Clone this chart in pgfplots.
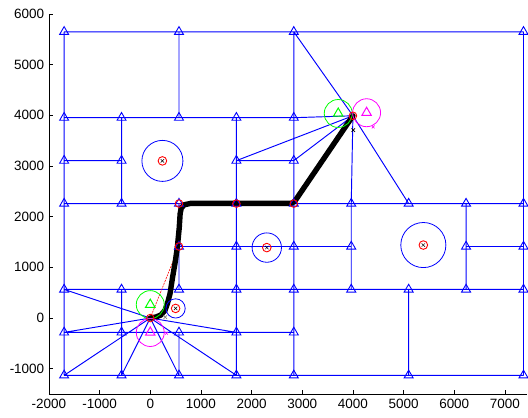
\documentclass[border=0pt]{standalone}
\usepackage{fontspec}
\setmainfont{Liberation Sans}
\usepackage{pgfplots}
\usepackage{pgfplotstable}
\pgfplotsset{compat=1.18}
\definecolor{mblue}{rgb}{0,0,1}
\definecolor{mgreen}{rgb}{0,1,0}
\definecolor{mmag}{rgb}{1,0,1}
\definecolor{mred}{rgb}{1,0,0}

% triangle nodes
\pgfplotstableread{
x y
-1700 5646
567 5646
2833 5646
7367 5646
-1700 3952
-567 3952
567 3952
1700 3952
2833 3952
-1700 3105
-567 3105
1700 3105
2833 3105
-1700 2258
-567 2258
567 2258
1700 2258
2833 2258
3967 2258
5100 2258
6233 2258
7367 2258
567 1411
1700 1411
2833 1411
3967 1411
6233 1411
7367 1411
-1700 564
-567 564
567 564
1700 564
2833 564
3967 564
5100 564
6233 564
7367 564
-1700 -283
-567 -283
567 -283
1700 -283
2833 -283
-1700 -1130
-567 -1130
567 -1130
1700 -1130
2833 -1130
5100 -1130
7367 -1130
}\nodes

% obstacles: centre and radius (data units)
\pgfplotstableread{
x y r
240 3100 405
2300 1390 290
5390 1440 445
500 190 190
}\obst

% robot path (smoothed)
\pgfplotstableread{
x y
0 0
110 20
210 60
290 150
340 290
390 480
440 800
495 1120
535 1400
572 1780
590 2060
612 2170
672 2235
800 2262
2780 2262
2850 2300
4000 3990
}\robpath

\begin{document}
\fontsize{13.5}{16}\selectfont
\begin{tikzpicture}
\begin{axis}[
  scale only axis, width=479pt, height=380.8pt,
  xmin=-2000, xmax=7440, ymin=-1500, ymax=6000,
  axis x line*=bottom, axis y line*=left,
  xtick={-2000,-1000,...,7000}, ytick={-1000,0,...,6000},
  tick align=inside, major tick length=4pt,
  tick style={black, line width=0.6pt},
  axis line style={black, line width=0.8pt},
  /pgf/number format/assume math mode=true,
  /pgf/number format/set thousands separator={},
  tick label style={font=\fontsize{13.5}{16}\selectfont},
  unbounded coords=jump,
]
% graph edges
\addplot[mblue, line width=0.95pt, no marks] coordinates {
(-1700,5646)(7367,5646)(0,nan)
(-1700,3952)(2833,3952)(4000,3990)(0,nan)
(-1700,3105)(-567,3105)(0,nan)
(1700,3105)(2833,3105)(0,nan)
(-1700,2258)(7367,2258)(0,nan)
(567,1411)(3967,1411)(0,nan)
(6233,1411)(7367,1411)(0,nan)
(-1700,564)(7367,564)(0,nan)
(-1700,-283)(2833,-283)(0,nan)
(-1700,-1130)(7367,-1130)(0,nan)
(-1700,5646)(-1700,-1130)(0,nan)
(-567,3952)(-567,2258)(0,nan)
(-567,564)(-567,-1130)(0,nan)
(567,5646)(567,3952)(0,nan)
(567,2258)(567,564)(0,nan)
(567,-283)(567,-1130)(0,nan)
(1700,3952)(1700,-1130)(0,nan)
(2833,5646)(2833,-1130)(0,nan)
(3967,2258)(3967,564)(0,nan)
(5100,564)(5100,-1130)(0,nan)
(6233,2258)(6233,564)(0,nan)
(7367,5646)(7367,-1130)(0,nan)
(2833,5646)(4000,3990)(1700,3105)(0,nan)
(2833,3105)(4000,3990)(3967,2258)(0,nan)
(4000,3990)(5100,2258)(0,nan)
(-1700,564)(0,0)(-1700,-283)(0,nan)
(-1700,-1130)(0,0)(-567,-1130)(0,nan)
(567,-1130)(0,0)(1700,-1130)(0,nan)
(0,0)(1700,-283)
};
% obstacle boundaries
\addplot[only marks, mark=o, line width=0.8pt,
  scatter, scatter/use mapped color={draw=mblue, fill=none},
  visualization depends on={0.050742*\thisrow{r} \as \rpt},
  scatter/@pre marker code/.append style={/tikz/mark size=\rpt pt}]
  table[x=x, y=y] {\obst};
% obstacle centres
\addplot[only marks, mark=o, mark size=4.3pt, mred, line width=0.9pt] table[x=x, y=y] {\obst};
\addplot[only marks, mark=x, mark size=2.4pt, black, line width=0.5pt] table[x=x, y=y] {\obst};
% nodes
\addplot[only marks, mark=triangle, mark size=5.2pt, mblue, line width=0.9pt] table {\nodes};
% green and magenta robots
\addplot[only marks, mark=o, mark size=14pt, mgreen, line width=0.8pt] coordinates {(0,265)(3710,4035)};
\addplot[only marks, mark=triangle, mark size=5.5pt, mgreen, line width=1pt] coordinates {(0,265)(3710,4035)};
\addplot[only marks, mark=o, mark size=14pt, mmag, line width=0.8pt] coordinates {(0,-285)(4270,4050)};
\addplot[only marks, mark=triangle, mark size=5.5pt, mmag, line width=1pt] coordinates {(0,-285)(4270,4050)};
\addplot[only marks, mark=x, mark size=2pt, mmag, line width=0.6pt] coordinates {(320,-300)(4400,3770)};
% planned straight path
\addplot[mred, line width=0.6pt, dash pattern=on 2pt off 1pt, no marks] coordinates {
(0,0)(567,1411)(567,2258)(1700,2258)(2833,2258)(4000,3990)};
% smoothed robot path
\addplot[black, line width=5.4pt, line join=round, line cap=round, no marks] table {\robpath};
% path nodes
\addplot[only marks, mark=o, mark size=3.8pt, mred, line width=0.9pt] coordinates {
(0,0)(567,1411)(567,2258)(1700,2258)(2833,2258)(4000,3990)};
\addplot[only marks, mark=x, mark size=2.5pt, gray, line width=0.6pt] coordinates {(296,18)};
\addplot[only marks, mark=x, mark size=2.5pt, black, line width=0.6pt] coordinates {(4007,3707)};
\end{axis}
\path ([shift={(-49pt,-23.3pt)}]current axis.south west) rectangle ([shift={(0pt,13.9pt)}]current axis.north east);
\end{tikzpicture}
\end{document}
